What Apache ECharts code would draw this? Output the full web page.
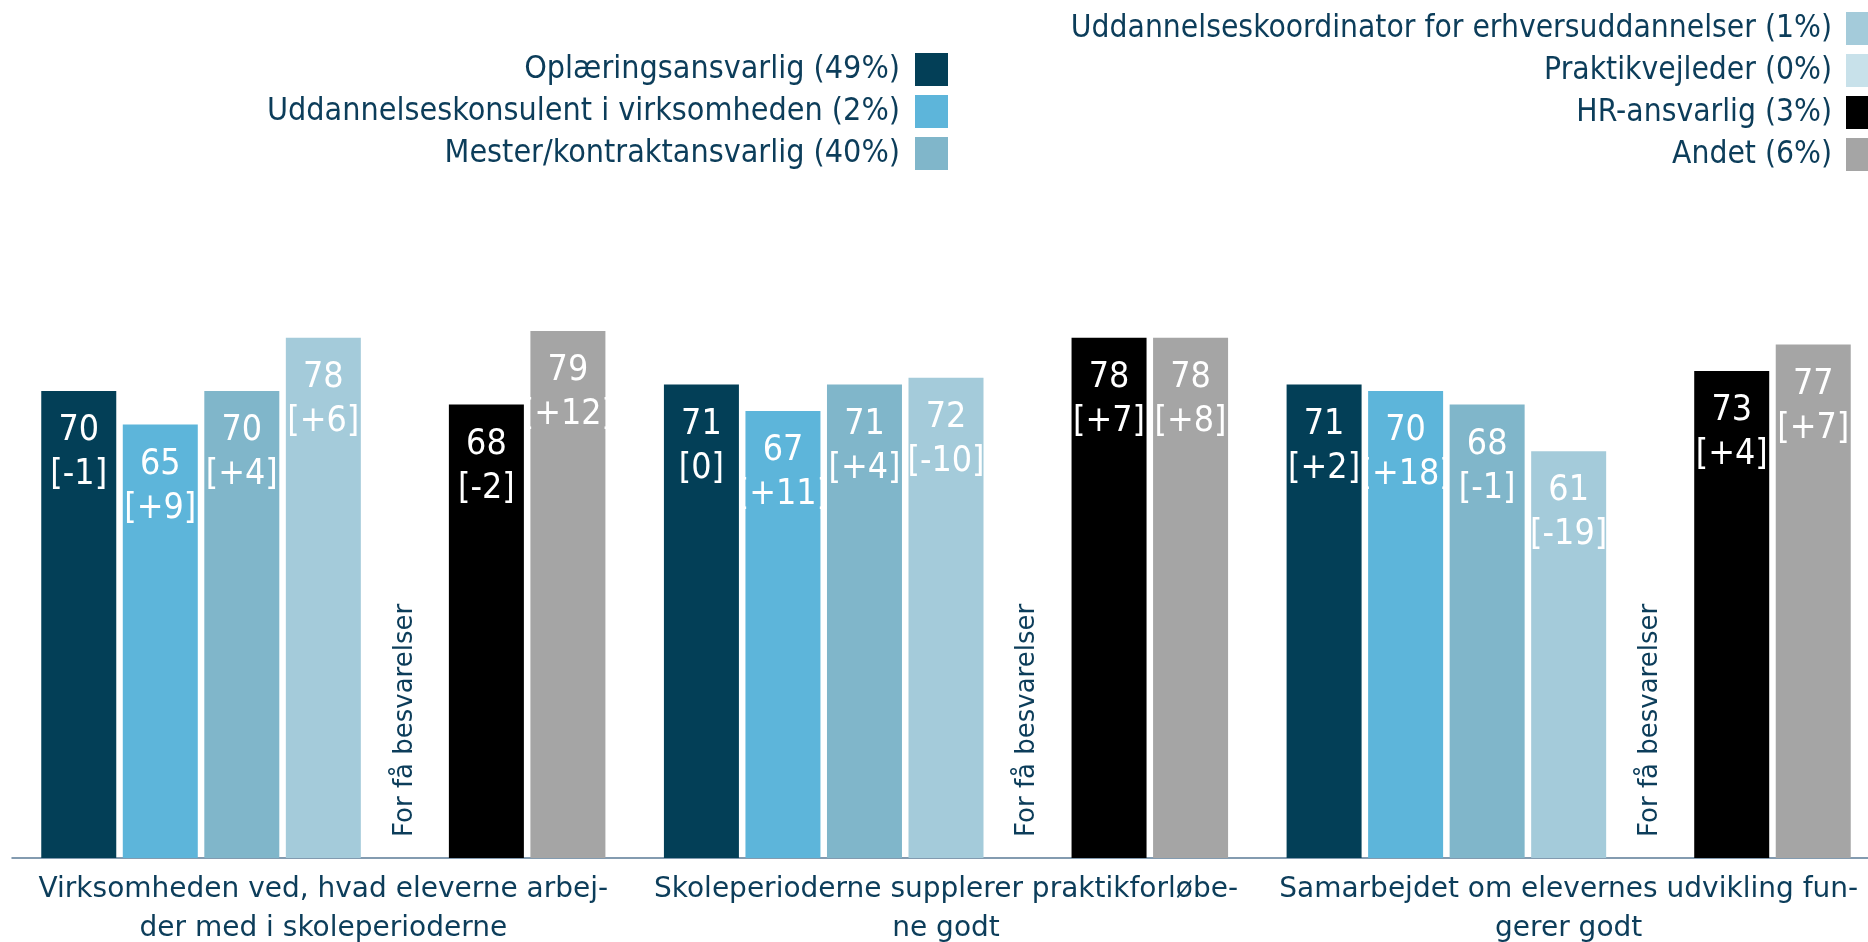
<!DOCTYPE html>
<html>
<head>
<meta charset="utf-8">
<script src="https://cdn.jsdelivr.net/npm/echarts@6/dist/echarts.min.js"></script>
<style>
html,body{margin:0;padding:0;background:#fff;}
#main{width:1868px;height:942px;}
</style>
</head>
<body>
<div id="main"></div>
<script>
var categories = [
	'Virksomheden ved, hvad eleverne arbej-\nder med i skoleperioderne',
	'Skoleperioderne supplerer praktikforløbe-\nne godt',
	'Samarbejdet om elevernes udvikling fun-\ngerer godt'
];
var names = [
	'Oplæringsansvarlig (49%)',
	'Uddannelseskonsulent i virksomheden (2%)',
	'Mester/kontraktansvarlig (40%)',
	'Uddannelseskoordinator for erhversuddannelser (1%)',
	'Praktikvejleder (0%)',
	'HR-ansvarlig (3%)',
	'Andet (6%)'
];
var colors = ['#033f57', '#5db5da', '#80b6ca', '#a4cbda', '#c8e1ea', '#000000', '#a5a5a5'];

// score per group, and change in brackets
var oplaering = [70, 71, 71];
var oplaeringDiff = ['-1', '0', '+2'];
var konsulent = [65, 67, 70];
var konsulentDiff = ['+9', '+11', '+18'];
var mester = [70, 71, 68];
var mesterDiff = ['+4', '+4', '-1'];
var koordinator = [78, 72, 61];
var koordinatorDiff = ['+6', '-10', '-19'];
var praktik = [0, 0, 0]; // for få besvarelser
var hr = [68, 78, 73];
var hrDiff = ['-2', '+7', '+4'];
var andet = [79, 78, 77];
var andetDiff = ['+12', '+8', '+7'];

var textColor = '#0c3d5a';
var condensed = "'DejaVu Sans Condensed', 'Liberation Sans Narrow', 'DejaVu Sans', sans-serif";

function valueBar(i, data, diff){
	return {
		name: names[i],
		type: 'bar',
		barWidth: 75,
		barGap: '8.7%',
		itemStyle: {color: colors[i]},
		label: {
			show: true,
			position: 'insideTop',
			distance: 18,
			color: '#fff',
			fontFamily: condensed,
			fontSize: 35.5,
			lineHeight: 44,
			formatter: function(p){
				return p.value + '\n[' + diff[p.dataIndex] + ']';
			}
		},
		data: data
	};
}

var myChart = echarts.init(document.getElementById('main'));

var option = {
	animation: false,
	color: colors,
	legend: [
		{
			data: names.slice(0, 3),
			orient: 'vertical',
			align: 'right',
			right: 915,
			top: 48,
			itemWidth: 33,
			itemHeight: 33,
			itemGap: 9,
			icon: 'rect',
			selectedMode: false,
			textStyle: {color: textColor, fontFamily: condensed, fontSize: 32, padding: [0, 10, 0, 0]}
		},
		{
			data: names.slice(3),
			orient: 'vertical',
			align: 'right',
			right: -16,
			top: 7,
			itemWidth: 33,
			itemHeight: 33,
			itemGap: 9,
			icon: 'rect',
			selectedMode: false,
			textStyle: {color: textColor, fontFamily: condensed, fontSize: 31.5, padding: [0, 9, 0, 0]}
		}
	],
	grid: {
		left: 12,
		right: -12,
		top: 191,
		bottom: 84,
		outerBoundsMode: 'none',
		containLabel: false
	},
	xAxis: {
		type: 'category',
		data: categories,
		axisTick: {show: false},
		axisLine: {lineStyle: {color: '#5b7b97', width: 1.5}},
		axisLabel: {
			interval: 0,
			margin: 12,
			color: textColor,
			fontFamily: 'DejaVu Sans',
			fontSize: 28,
			lineHeight: 39
		}
	},
	yAxis: {
		type: 'value',
		min: 0,
		max: 100,
		show: false
	},
	series: [
		valueBar(0, oplaering, oplaeringDiff),
		valueBar(1, konsulent, konsulentDiff),
		valueBar(2, mester, mesterDiff),
		valueBar(3, koordinator, koordinatorDiff),
		{
			name: names[4],
			type: 'bar',
			barWidth: 75,
			barGap: '8.7%',
			itemStyle: {color: colors[4]},
			label: {
				show: true,
				position: 'insideBottom',
				distance: 21,
				rotate: 90,
				align: 'left',
				verticalAlign: 'middle',
				color: textColor,
				fontFamily: 'DejaVu Sans',
				fontSize: 26,
				formatter: 'For få besvarelser'
			},
			data: praktik
		},
		valueBar(5, hr, hrDiff),
		valueBar(6, andet, andetDiff)
	]
};

myChart.setOption(option);
window.addEventListener('resize', function(){
	myChart.resize();
});
</script>
</body>
</html>
